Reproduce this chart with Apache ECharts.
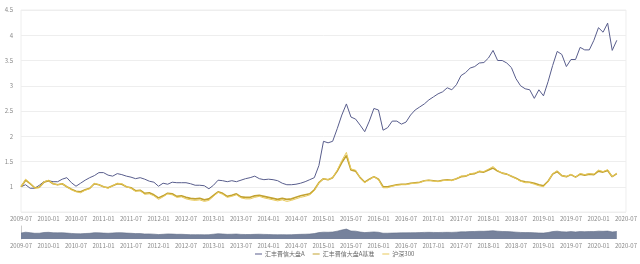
<!DOCTYPE html>
<html>
<head>
<meta charset="utf-8">
<script src="https://cdn.jsdelivr.net/npm/echarts@6/dist/echarts.min.js"></script>
<style>
  html, body { margin: 0; padding: 0; background: #fff; }
  #chart { width: 640px; height: 264px; }
</style>
</head>
<body>
<div id="chart"></div>
<script>
// 月度净值(归一化), 2009-07 起
const startYear = 2009;
const startMonth = 7;
const monthCount = 133; // 2009-07 ~ 2020-07

const fundA = [
  1.00, 1.04, 0.97, 0.97, 1.03, 1.10, 1.12, 1.10, 1.10, 1.15, 1.18, 1.08,
  1.01, 1.07, 1.13, 1.18, 1.22, 1.28, 1.28, 1.23, 1.21, 1.26, 1.24, 1.21,
  1.19, 1.16, 1.18, 1.15, 1.11, 1.09, 1.01, 1.07, 1.05, 1.09, 1.08, 1.08,
  1.08, 1.06, 1.03, 1.03, 1.02, 0.96, 1.03, 1.13, 1.12, 1.10, 1.12, 1.10,
  1.13, 1.16, 1.18, 1.21, 1.16, 1.14, 1.15, 1.14, 1.12, 1.07, 1.04, 1.04,
  1.05, 1.07, 1.10, 1.14, 1.18, 1.42, 1.90, 1.87, 1.90, 2.15, 2.42, 2.64,
  2.38, 2.34, 2.22, 2.09, 2.30, 2.55, 2.52, 2.12, 2.17, 2.30, 2.30, 2.24,
  2.28, 2.42, 2.52, 2.58, 2.64, 2.72, 2.78, 2.84, 2.88, 2.96, 2.92, 3.02,
  3.20, 3.26, 3.35, 3.38, 3.45, 3.46, 3.55, 3.70, 3.50, 3.50, 3.45, 3.36,
  3.14, 3.00, 2.94, 2.92, 2.75, 2.92, 2.80, 3.08, 3.40, 3.68, 3.62, 3.38,
  3.52, 3.52, 3.76, 3.71, 3.71, 3.90, 4.15, 4.06, 4.24, 3.70, 3.90
];

const benchmark = [
  1.00, 1.13, 1.06, 0.98, 0.99, 1.09, 1.12, 1.06, 1.04, 1.06, 1.00, 0.95,
  0.91, 0.90, 0.94, 0.97, 1.06, 1.04, 1.00, 0.98, 1.02, 1.06, 1.05, 1.00,
  0.98, 0.92, 0.93, 0.87, 0.88, 0.84, 0.78, 0.82, 0.87, 0.86, 0.81, 0.82,
  0.79, 0.77, 0.76, 0.77, 0.74, 0.76, 0.83, 0.90, 0.87, 0.81, 0.83, 0.86,
  0.80, 0.79, 0.79, 0.82, 0.83, 0.81, 0.79, 0.77, 0.75, 0.77, 0.75, 0.76,
  0.79, 0.82, 0.84, 0.86, 0.94, 1.08, 1.16, 1.14, 1.18, 1.31, 1.48, 1.62,
  1.33, 1.31, 1.18, 1.09, 1.15, 1.20, 1.15, 1.00, 1.00, 1.02, 1.04, 1.05,
  1.05, 1.07, 1.08, 1.09, 1.12, 1.13, 1.12, 1.11, 1.13, 1.14, 1.13, 1.16,
  1.20, 1.21, 1.25, 1.26, 1.30, 1.29, 1.33, 1.37, 1.31, 1.27, 1.25, 1.21,
  1.17, 1.12, 1.10, 1.09, 1.07, 1.04, 1.02, 1.11, 1.25, 1.30, 1.22, 1.20,
  1.24, 1.19, 1.25, 1.23, 1.25, 1.24, 1.31, 1.29, 1.32, 1.20, 1.26
];

const hs300 = [
  1.00, 1.15, 1.07, 0.97, 0.98, 1.10, 1.13, 1.06, 1.04, 1.06, 1.00, 0.94,
  0.90, 0.88, 0.93, 0.96, 1.07, 1.04, 1.00, 0.97, 1.02, 1.07, 1.06, 1.00,
  0.97, 0.91, 0.92, 0.85, 0.86, 0.82, 0.75, 0.80, 0.86, 0.84, 0.79, 0.80,
  0.76, 0.74, 0.73, 0.74, 0.71, 0.73, 0.81, 0.89, 0.85, 0.79, 0.81, 0.84,
  0.78, 0.76, 0.76, 0.79, 0.81, 0.78, 0.76, 0.74, 0.72, 0.74, 0.71, 0.73,
  0.76, 0.79, 0.81, 0.84, 0.92, 1.08, 1.16, 1.14, 1.18, 1.33, 1.52, 1.68,
  1.35, 1.33, 1.18, 1.08, 1.14, 1.20, 1.14, 0.98, 0.98, 1.01, 1.03, 1.04,
  1.04, 1.06, 1.07, 1.08, 1.12, 1.13, 1.11, 1.10, 1.12, 1.13, 1.12, 1.16,
  1.21, 1.21, 1.26, 1.27, 1.31, 1.30, 1.35, 1.40, 1.32, 1.27, 1.25, 1.21,
  1.16, 1.11, 1.08, 1.08, 1.05, 1.02, 1.00, 1.10, 1.26, 1.32, 1.22, 1.20,
  1.25, 1.19, 1.26, 1.24, 1.26, 1.25, 1.33, 1.30, 1.34, 1.20, 1.27
];

const seriesNames = ['汇丰晋信大盘A', '汇丰晋信大盘A基准', '沪深300'];
const colors = ['#585d8c', '#c2a230', '#e8c95a'];

// 月份类目
const months = [];
for (let i = 0; i < monthCount; i++) {
  const m = startMonth - 1 + i;
  const y = startYear + Math.floor(m / 12);
  const mm = (m % 12) + 1;
  months.push(y + '-' + (mm < 10 ? '0' + mm : mm));
}

const labelFont = { fontSize: 6, color: '#888' };

const chart = echarts.init(document.getElementById('chart'));
chart.setOption({
  animation: false,
  color: colors,
  textStyle: { fontFamily: '"Noto Sans CJK SC", "Noto Sans", sans-serif' },
  legend: {
    data: seriesNames,
    bottom: 2,
    left: 250,
    itemWidth: 7,
    itemHeight: 1,
    itemGap: 8,
    icon: 'rect',
    textStyle: { fontSize: 6, color: '#666', padding: [0, 0, 0, -2] }
  },
  grid: [
    { left: 21, right: 10, top: 10, bottom: 52, show: true, borderColor: '#eee', borderWidth: 1 },
    { left: 21, right: 10, top: 226, height: 13 }
  ],
  xAxis: [
    {
      type: 'category', gridIndex: 0, data: months, boundaryGap: false,
      axisLine: { show: false }, axisTick: { show: false },
      axisLabel: Object.assign({ interval: 5, margin: 4 }, labelFont),
      splitLine: { show: false }
    },
    {
      type: 'category', gridIndex: 1, data: months, boundaryGap: false,
      axisLine: { show: false }, axisTick: { show: false },
      axisLabel: Object.assign({ interval: 5, margin: 4 }, labelFont),
      splitLine: { show: false }
    }
  ],
  yAxis: [
    {
      type: 'value', gridIndex: 0, min: 0.5, max: 4.5, interval: 0.5,
      axisLine: { show: false }, axisTick: { show: false },
      axisLabel: Object.assign({ showMinLabel: false, margin: 8 }, labelFont),
      splitLine: { lineStyle: { color: '#eee', width: 1 } }
    },
    {
      type: 'value', gridIndex: 1, min: 0, max: 2.2,
      axisLine: { show: true, lineStyle: { color: '#ccc' } },
      axisTick: { show: false }, axisLabel: { show: false },
      splitLine: { show: false }
    }
  ],
  series: [
    {
      name: seriesNames[0], type: 'line', data: fundA, showSymbol: false,
      lineStyle: { width: 1, color: colors[0] }, z: 3
    },
    {
      name: seriesNames[1], type: 'line', data: benchmark, showSymbol: false,
      lineStyle: { width: 1.6, color: colors[1] }
    },
    {
      name: seriesNames[2], type: 'line', data: hs300, showSymbol: false,
      lineStyle: { width: 1, color: colors[2] }
    },
    {
      type: 'line', xAxisIndex: 1, yAxisIndex: 1, data: hs300, showSymbol: false,
      lineStyle: { width: 0.6, color: '#5f6b86' },
      areaStyle: { color: '#76829c', opacity: 1 },
      silent: true
    }
  ]
});
</script>
</body>
</html>
